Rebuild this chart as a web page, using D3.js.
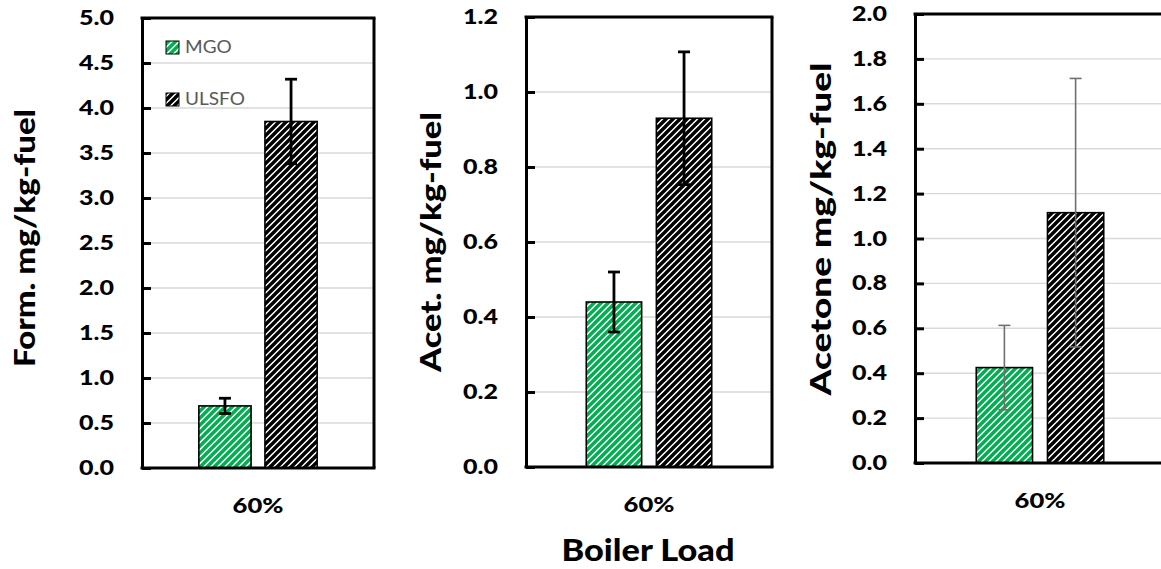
<!DOCTYPE html>
<html><head><meta charset="utf-8">
<script src="https://cdn.jsdelivr.net/npm/d3@7"></script>
<style>body{margin:0;background:#fff;} svg{display:block;}</style>
</head><body>
<svg id="chart" width="1161" height="569"></svg>
<script>
const categories = ["60%"];
const series = ["MGO", "ULSFO"];
const formValues = [0.69, 3.85];
const formErrors = [0.085, 0.47];
const acetValues = [0.44, 0.93];
const acetErrors = [0.08, 0.177];
const acetoneValues = [0.425, 1.115];
const acetoneErrors = [0.188, 0.598];
const formTicks = [0, 0.5, 1, 1.5, 2, 2.5, 3, 3.5, 4, 4.5, 5];
const acetTicks = [0, 0.2, 0.4, 0.6, 0.8, 1.0, 1.2];
const acetoneTicks = [0, 0.2, 0.4, 0.6, 0.8, 1.0, 1.2, 1.4, 1.6, 1.8, 2.0];
const yTitles = ["Form. mg/kg-fuel", "Acet. mg/kg-fuel", "Acetone mg/kg-fuel"];
const xTitle = "Boiler Load";

const FONT = "Lato, 'Open Sans', sans-serif";
const SX = 1.22;
const svg = d3.select("#chart");
const defs = svg.append("defs");

function hatch(id, color) {
  const p = defs.append("pattern").attr("id", id).attr("patternUnits", "userSpaceOnUse")
    .attr("width", 7).attr("height", 7);
  p.append("rect").attr("width", 7).attr("height", 7).attr("fill", "#fff");
  p.append("path").attr("d", "M-2,2 L2,-2 M0,7 L7,0 M5,9 L9,5")
    .attr("stroke", color).attr("stroke-width", 3.4);
}
hatch("hGreen", "#00B050");
hatch("hBlack", "#000");
const fills = ["url(#hGreen)", "url(#hBlack)"];

const panels = [
  {vals: formValues, errs: formErrors, ticks: formTicks, max: 5, x0: 142, x1: 374, y0: 18, y1: 468,
   errColor: "#000", errW: 2.8, cap: 12, titleX: 35, titleY: 238, titleLen: 258, legend: true, rightBorder: true},
  {vals: acetValues, errs: acetErrors, ticks: acetTicks, max: 1.2, x0: 526, x1: 772, y0: 17, y1: 467,
   errColor: "#000", errW: 2.8, cap: 12, titleX: 441, titleY: 242, titleLen: 260, legend: false, rightBorder: true},
  {vals: acetoneValues, errs: acetoneErrors, ticks: acetoneTicks, max: 2, x0: 915, x1: 1165, y0: 14, y1: 463,
   errColor: "#707070", errW: 1.6, cap: 12, titleX: 831, titleY: 229, titleLen: 333, legend: false, rightBorder: false}
];

panels.forEach((p, i) => {
  const g = svg.append("g");
  const y = d3.scaleLinear().domain([0, p.max]).range([p.y1, p.y0]);
  const x0 = d3.scaleBand().domain(categories).range([p.x0, p.x1]).paddingInner(0).paddingOuter(0);
  const x1 = d3.scaleBand().domain(series).range([0, x0.bandwidth()]).paddingInner(0.21).paddingOuter(0.86);

  g.append("g").selectAll("line").data(p.ticks.filter(t => t > 0 && t < p.max)).join("line")
    .attr("x1", p.x0).attr("x2", p.x1).attr("y1", d => y(d)).attr("y2", d => y(d))
    .attr("stroke", "#d9d9d9").attr("stroke-width", 1.4);

  const cg = g.append("g").selectAll("g").data(categories).join("g")
    .attr("transform", d => `translate(${x0(d)},0)`);
  cg.selectAll("rect").data(() => series.map((s, k) => ({s, v: p.vals[k], e: p.errs[k], k})))
    .join("rect")
    .attr("x", d => x1(d.s)).attr("width", x1.bandwidth())
    .attr("y", d => y(d.v)).attr("height", d => y(0) - y(d.v))
    .attr("fill", d => fills[d.k]).attr("stroke", "#000").attr("stroke-width", 1.6);

  const eb = cg.selectAll("g.err").data(() => series.map((s, k) => ({s, v: p.vals[k], e: p.errs[k]})))
    .join("g").attr("class", "err")
    .attr("stroke", p.errColor).attr("stroke-width", p.errW);
  const cx = d => x1(d.s) + x1.bandwidth() / 2;
  eb.append("line").attr("x1", cx).attr("x2", cx)
    .attr("y1", d => y(d.v + d.e)).attr("y2", d => y(d.v - d.e));
  eb.append("line").attr("x1", d => cx(d) - p.cap / 2).attr("x2", d => cx(d) + p.cap / 2)
    .attr("y1", d => y(d.v + d.e)).attr("y2", d => y(d.v + d.e));
  eb.append("line").attr("x1", d => cx(d) - p.cap / 2).attr("x2", d => cx(d) + p.cap / 2)
    .attr("y1", d => y(d.v - d.e)).attr("y2", d => y(d.v - d.e));

  const fr = g.append("g").attr("stroke", "#000").attr("stroke-width", 3).attr("fill", "none");
  fr.append("line").attr("x1", p.x0 - 1.5).attr("x2", p.x1 + 1.5).attr("y1", p.y0).attr("y2", p.y0);
  fr.append("line").attr("x1", p.x0 - 1.5).attr("x2", p.x1 + 1.5).attr("y1", p.y1).attr("y2", p.y1);
  if (p.rightBorder) fr.append("line").attr("x1", p.x1).attr("x2", p.x1).attr("y1", p.y0).attr("y2", p.y1);

  const ax = g.append("g").attr("transform", `translate(${p.x0},0)`)
    .call(d3.axisLeft(y).tickValues(p.ticks).tickFormat(d3.format(".1f")).tickSizeInner(-9).tickSizeOuter(0).tickPadding(28));
  ax.select(".domain").attr("stroke", "#000").attr("stroke-width", 3);
  ax.selectAll(".tick line").attr("stroke", "#000").attr("stroke-width", 3);
  ax.selectAll(".tick text").attr("font-family", FONT).attr("font-weight", 900)
    .attr("font-size", 20.5).attr("fill", "#000")
    .attr("x", 0).attr("transform", `translate(-28,0) scale(${SX},1)`);

  g.append("g").selectAll("text").data(categories).join("text")
    .attr("transform", d => `translate(${x0(d) + x0.bandwidth() / 2},${p.y1 + 45}) scale(${SX},1)`)
    .attr("text-anchor", "middle")
    .attr("font-family", FONT).attr("font-weight", 900).attr("font-size", 21).text(d => d);

  g.append("text").attr("transform", `translate(${p.titleX},${p.titleY}) rotate(-90)`)
    .attr("text-anchor", "middle").attr("font-family", FONT).attr("font-weight", 900)
    .attr("font-size", 28.5).attr("textLength", p.titleLen).attr("lengthAdjust", "spacingAndGlyphs")
    .text(yTitles[i]);

  if (p.legend) {
    const lg = g.append("g");
    series.forEach((s, k) => {
      const ly = 47 + k * 52;
      lg.append("rect").attr("x", 166).attr("y", ly - 6).attr("width", 13).attr("height", 13)
        .attr("fill", fills[k]).attr("stroke", "#000").attr("stroke-width", 1);
      lg.append("text").attr("transform", `translate(185,${ly + 6}) scale(1.12,1)`).attr("font-family", FONT)
        .attr("font-size", 17).attr("fill", "#595959").text(s);
    });
  }
});

svg.append("text").attr("x", 648).attr("y", 561).attr("text-anchor", "middle")
  .attr("font-family", FONT).attr("font-weight", 900).attr("font-size", 31)
  .attr("textLength", 173).attr("lengthAdjust", "spacingAndGlyphs").text(xTitle);
</script>
</body></html>
